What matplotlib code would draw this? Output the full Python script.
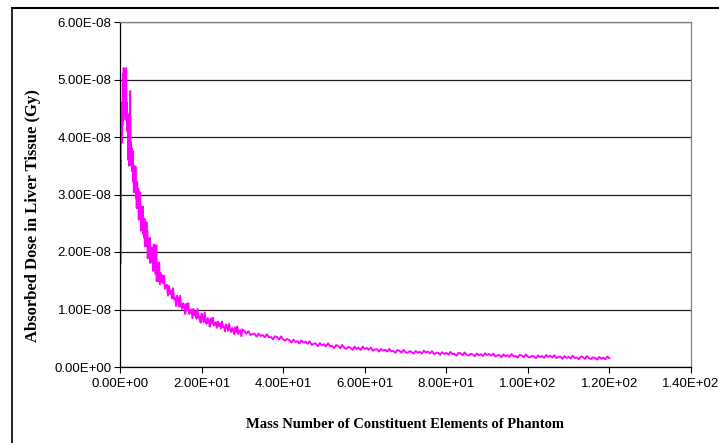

#
# Absorbed dose in liver tissue vs. mass number of phantom elements
# (Excel-style line chart, recreated with matplotlib)
#

import matplotlib.pyplot as plt
from matplotlib.lines import Line2D


# data, dose in units of 1E-08 Gy
# peak region (0 - 3)
peak_x = [0.0, 0.05, 0.1, 0.2, 0.3, 0.4, 0.5, 0.6, 0.7, 0.8, 0.9, 1.0, 1.1, 1.2, 1.3, 1.4,
          1.5, 1.6, 1.7, 1.8, 1.9, 2.0, 2.1, 2.2, 2.3, 2.4, 2.5, 2.6, 2.7, 2.8, 2.9, 3.0]
peak_y = [0.95, 3.6, 1.8, 3.9, 4.4, 3.9, 4.6, 4.2, 5.1, 4.3, 5.2, 4.5, 5.0, 4.4, 4.8, 4.3,
          5.2, 4.4, 4.6, 4.1, 4.4, 3.6, 4.3, 3.5, 4.1, 3.8, 4.8, 3.7, 3.9, 3.5, 3.8, 3.4]

# fast decay (3 - 10)
decay_x = [3.1, 3.2, 3.3, 3.4, 3.5, 3.6, 3.7, 3.8, 3.9, 4.0, 4.1, 4.2, 4.3, 4.4, 4.5, 4.6, 4.7, 4.8,
           4.9, 5.0, 5.1, 5.2, 5.3, 5.4, 5.5, 5.6, 5.7, 5.8, 5.9, 6.0, 6.1, 6.2, 6.3, 6.4, 6.5, 6.6,
           6.7, 6.8, 6.9, 7.0, 7.1, 7.2, 7.3, 7.4, 7.5, 7.6, 7.7, 7.8, 7.9, 8.0, 8.1, 8.2, 8.3, 8.4,
           8.5, 8.6, 8.7, 8.8, 8.9, 9.0, 9.1, 9.2, 9.3, 9.4, 9.5, 9.6, 9.7, 9.8, 9.9, 10.0]
decay_y = [3.76, 3.22, 3.48, 3.04, 3.50, 3.26, 3.12, 3.48, 2.94, 3.20, 2.76, 3.22, 2.88, 2.94, 3.10,
           2.56, 2.92, 2.58, 3.04, 2.60, 2.76, 2.37, 2.79, 2.49, 2.55, 2.79, 2.31, 2.55, 2.25, 2.58,
           2.10, 2.43, 2.31, 2.10, 2.52, 2.13, 2.37, 1.89, 2.22, 2.01, 2.22, 1.99, 2.25, 1.81, 2.07,
           1.98, 1.82, 2.08, 1.85, 1.97, 1.67, 2.00, 2.13, 1.68, 1.87, 1.99, 1.62, 1.67, 2.12, 1.49,
           1.76, 1.60, 1.80, 1.64, 1.49, 1.82, 1.53, 1.44, 1.64, 1.48]

# middle part (10 - 30)
mid_x = [10.25, 10.5, 10.75, 11.0, 11.25, 11.5, 11.75, 12.0, 12.25, 12.5, 12.75, 13.0, 13.25, 13.5,
         13.75, 14.0, 14.25, 14.5, 14.75, 15.0, 15.25, 15.5, 15.75, 16.0, 16.25, 16.5, 16.75, 17.0,
         17.25, 17.5, 17.75, 18.0, 18.25, 18.5, 18.75, 19.0, 19.25, 19.5, 19.75, 20.0, 20.25, 20.5,
         20.75, 21.0, 21.25, 21.5, 21.75, 22.0, 22.25, 22.5, 22.75, 23.0, 23.25, 23.5, 23.75, 24.0,
         24.25, 24.5, 24.75, 25.0, 25.25, 25.5, 25.75, 26.0, 26.25, 26.5, 26.75, 27.0, 27.25, 27.5,
         27.75, 28.0, 28.25, 28.5, 28.75, 29.0, 29.25, 29.5, 29.75, 30.0]
mid_y = [1.60, 1.46, 1.59, 1.36, 1.41, 1.43, 1.24, 1.41, 1.27, 1.33, 1.19, 1.37, 1.18, 1.20, 1.06,
         1.24, 1.19, 1.05, 1.24, 1.06, 1.01, 1.11, 1.06, 0.92, 1.10, 0.98, 1.11, 0.92, 0.98, 1.00,
         0.85, 1.01, 0.90, 0.96, 0.84, 1.01, 0.86, 0.88, 0.77, 0.93, 0.89, 0.78, 0.95, 0.80, 0.75,
         0.85, 0.81, 0.70, 0.84, 0.76, 0.86, 0.72, 0.76, 0.78, 0.68, 0.79, 0.71, 0.76, 0.67, 0.79,
         0.69, 0.70, 0.62, 0.74, 0.71, 0.63, 0.75, 0.645, 0.61, 0.68, 0.65, 0.57, 0.69, 0.61, 0.705,
         0.575, 0.62, 0.64, 0.535, 0.655]

# tail (30 - 120)
tail_x = [30.5, 31.0, 31.5, 32.0, 32.5, 33.0, 33.5, 34.0, 34.5, 35.0, 35.5, 36.0, 36.5, 37.0, 37.5,
          38.0, 38.5, 39.0, 39.5, 40.0, 40.5, 41.0, 41.5, 42.0, 42.5, 43.0, 43.5, 44.0, 44.5, 45.0,
          45.5, 46.0, 46.5, 47.0, 47.5, 48.0, 48.5, 49.0, 49.5, 50.0, 50.5, 51.0, 51.5, 52.0, 52.5,
          53.0, 53.5, 54.0, 54.5, 55.0, 55.5, 56.0, 56.5, 57.0, 57.5, 58.0, 58.5, 59.0, 59.5, 60.0,
          60.5, 61.0, 61.5, 62.0, 62.5, 63.0, 63.5, 64.0, 64.5, 65.0, 65.5, 66.0, 66.5, 67.0, 67.5,
          68.0, 68.5, 69.0, 69.5, 70.0, 70.5, 71.0, 71.5, 72.0, 72.5, 73.0, 73.5, 74.0, 74.5, 75.0,
          75.5, 76.0, 76.5, 77.0, 77.5, 78.0, 78.5, 79.0, 79.5, 80.0, 80.5, 81.0, 81.5, 82.0, 82.5,
          83.0, 83.5, 84.0, 84.5, 85.0, 85.5, 86.0, 86.5, 87.0, 87.5, 88.0, 88.5, 89.0, 89.5, 90.0,
          90.5, 91.0, 91.5, 92.0, 92.5, 93.0, 93.5, 94.0, 94.5, 95.0, 95.5, 96.0, 96.5, 97.0, 97.5,
          98.0, 98.5, 99.0, 99.5, 100.0, 100.5, 101.0, 101.5, 102.0, 102.5, 103.0, 103.5, 104.0, 104.5,
          105.0, 105.5, 106.0, 106.5, 107.0, 107.5, 108.0, 108.5, 109.0, 109.5, 110.0, 110.5, 111.0,
          111.5, 112.0, 112.5, 113.0, 113.5, 114.0, 114.5, 115.0, 115.5, 116.0, 116.5, 117.0, 117.5,
          118.0, 118.5, 119.0, 119.5, 120.0]
tail_y = [0.623, 0.581, 0.623, 0.557, 0.575, 0.581, 0.527, 0.581, 0.539, 0.557, 0.516, 0.570, 0.517,
          0.523, 0.482, 0.536, 0.519, 0.477, 0.532, 0.478, 0.459, 0.487, 0.468, 0.424, 0.477, 0.433,
          0.450, 0.406, 0.462, 0.423, 0.443, 0.403, 0.447, 0.384, 0.404, 0.412, 0.360, 0.417, 0.377,
          0.397, 0.357, 0.412, 0.360, 0.368, 0.327, 0.383, 0.366, 0.326, 0.383, 0.332, 0.317, 0.350,
          0.336, 0.297, 0.354, 0.315, 0.336, 0.297, 0.354, 0.315, 0.333, 0.300, 0.338, 0.285, 0.303,
          0.310, 0.268, 0.315, 0.283, 0.300, 0.268, 0.315, 0.273, 0.280, 0.248, 0.295, 0.283, 0.250,
          0.298, 0.257, 0.245, 0.274, 0.262, 0.231, 0.279, 0.247, 0.266, 0.234, 0.283, 0.251, 0.269,
          0.238, 0.276, 0.225, 0.243, 0.251, 0.210, 0.258, 0.227, 0.245, 0.214, 0.262, 0.221, 0.230,
          0.198, 0.247, 0.236, 0.204, 0.253, 0.212, 0.200, 0.229, 0.218, 0.186, 0.235, 0.204, 0.222,
          0.191, 0.239, 0.208, 0.227, 0.195, 0.234, 0.183, 0.201, 0.210, 0.169, 0.218, 0.187, 0.206,
          0.175, 0.224, 0.183, 0.193, 0.162, 0.211, 0.200, 0.169, 0.218, 0.177, 0.166, 0.195, 0.184,
          0.153, 0.202, 0.171, 0.190, 0.159, 0.208, 0.177, 0.196, 0.166, 0.205, 0.154, 0.173, 0.182,
          0.141, 0.190, 0.159, 0.178, 0.147, 0.196, 0.156, 0.165, 0.134, 0.183, 0.172, 0.142, 0.191,
          0.150, 0.139, 0.168, 0.158, 0.127, 0.176, 0.145, 0.164, 0.134, 0.183, 0.152]

x_ticks = [0, 20, 40, 60, 80, 100, 120, 140]
x_labels = ['0.00E+00', '2.00E+01', '4.00E+01', '6.00E+01', '8.00E+01', '1.00E+02', '1.20E+02', '1.40E+02']
y_ticks = [0, 1e-8, 2e-8, 3e-8, 4e-8, 5e-8, 6e-8]
y_labels = ['0.00E+00', '1.00E-08', '2.00E-08', '3.00E-08', '4.00E-08', '5.00E-08', '6.00E-08']


# join the pieces into one series
mass = peak_x + decay_x + mid_x + tail_x
dose = [v * 1e-8 for v in peak_y + decay_y + mid_y + tail_y]


fig = plt.figure(figsize=(7.19, 4.43), dpi=100)
ax = fig.add_axes([120/719, 1-367/443, 571/719, 345/443])

ax.plot(mass, dose, color='#FF00FF', linewidth=1.35)

ax.set_xlim(0, 140)
ax.set_ylim(0, 6e-8)
ax.set_xticks(x_ticks)
ax.set_xticklabels(x_labels, family='Liberation Sans', size=9.5)
ax.set_yticks(y_ticks)
ax.set_yticklabels(y_labels, family='Liberation Sans', size=9.5)
ax.tick_params(direction='out', length=4, width=0.8, color='black')
ax.tick_params(axis='x', pad=4)
ax.tick_params(axis='y', pad=2)

# horizontal gridlines like excel
ax.grid(axis='y', color='#202020', linewidth=0.9)
ax.set_axisbelow(True)

ax.spines['left'].set_color('black')
ax.spines['bottom'].set_color('black')
ax.spines['top'].set_color('#808080')
ax.spines['right'].set_color('#808080')
for s in ax.spines.values():
    s.set_linewidth(0.9)

ax.set_xlabel('Mass Number of Constituent Elements of Phantom', family='Liberation Serif',
              weight='bold', size=10.5, labelpad=20)
ax.set_ylabel('Absorbed Dose in Liver Tissue (Gy)', family='Liberation Serif',
              weight='bold', size=12)
# the label sits a little below the middle of the axis in the picture
ax.yaxis.set_label_coords(-0.138, 0.44)

# outer chart frame (left and top edges show in the picture)
fig.add_artist(Line2D([12/719, 1.0], [1-8/443, 1-8/443], color='black', linewidth=1.5))
fig.add_artist(Line2D([12/719, 12/719], [0.0, 1-8/443], color='black', linewidth=1.2))


plt.savefig('out.png', dpi=100)
